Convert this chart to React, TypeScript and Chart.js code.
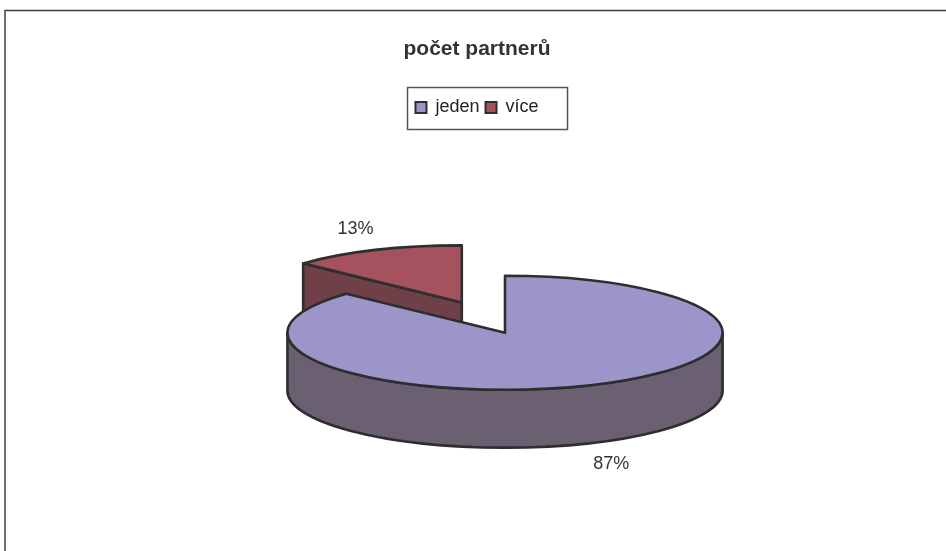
import React, { useEffect, useRef } from 'react';
import { Chart, registerables } from 'chart.js';

Chart.register(...registerables);

// ---- data ----
const categories = ['jeden', 'více'];
const values = [87, 13];
const topColors = ['#9B95C9', '#A5525E'];
const sideColors = ['#6B5F72', '#704049'];
const explode = [0, 0.5];
const chartTitle = 'počet partnerů';

// ---- style ----
const FONT = '"Liberation Sans", Arial, Helvetica, sans-serif';
const OUTLINE = '#2e2e2e';
const PIE = {
  rxFactor: 1.03,
  shiftX: 28,
  shiftY: -6,
  tilt: 0.262,
  depth: 0.266,
  explodeY: 1.16,
  labelX: 1.23,
  labelY: 1.4,
};

const framePlugin = {
  id: 'frame',
  beforeDraw(chart: any) {
    const ctx = chart.ctx;
    ctx.save();
    ctx.fillStyle = '#ffffff';
    ctx.fillRect(0, 0, chart.width, chart.height);
    ctx.strokeStyle = '#404040';
    ctx.lineWidth = 1.5;
    ctx.strokeRect(5, 10.5, chart.width + 50, chart.height + 50);
    ctx.restore();
  },
};

const legendBorderPlugin = {
  id: 'legendBorder',
  afterDraw(chart: any) {
    const hb = chart.legend && chart.legend.legendHitBoxes;
    if (!hb || !hb.length) return;
    const first = hb[0];
    const last = hb[hb.length - 1];
    const ctx = chart.ctx;
    ctx.save();
    ctx.strokeStyle = '#555555';
    ctx.lineWidth = 1.5;
    const l = Math.round(first.left - 8.5) + 0.5;
    const r = Math.round(last.left + last.width + 28) + 0.5;
    const t = Math.round(first.top - 12) + 0.5;
    const b = Math.round(first.top + first.height + 12) + 0.5;
    ctx.strokeRect(l, t, r - l, b - t);
    ctx.restore();
  },
};

const pie3dPlugin = {
  id: 'pie3d',
  beforeDatasetDraw() {
    return false;
  },
  afterDatasetsDraw(chart: any) {
    const meta = chart.getDatasetMeta(0);
    const arcs = meta.data;
    if (!arcs || !arcs.length) return;
    const ctx = chart.ctx;
    const a0 = arcs[0];
    const rx = a0.outerRadius * PIE.rxFactor;
    const ry = rx * PIE.tilt;
    const depth = rx * PIE.depth;
    const cx0 = a0.x + PIE.shiftX;
    const cy0 = a0.y + PIE.shiftY;
    const total = values.reduce((s, v) => s + v, 0);

    const items = arcs.map((arc: any, i: number) => {
      const s = arc.startAngle;
      const e = arc.endAngle;
      const mid = (s + e) / 2;
      const d = explode[i] || 0;
      return {
        i,
        s,
        e,
        mid,
        cx: cx0 + d * rx * Math.cos(mid),
        cy: cy0 + d * PIE.explodeY * ry * Math.sin(mid),
      };
    });
    items.sort((p: any, q: any) => Math.sin(p.mid) - Math.sin(q.mid));

    ctx.save();
    ctx.lineJoin = 'round';
    ctx.lineCap = 'round';
    ctx.lineWidth = 2.6;
    ctx.strokeStyle = OUTLINE;

    const face = (cx: number, cy: number, a: number, color: string) => {
      const ex = cx + rx * Math.cos(a);
      const ey = cy + ry * Math.sin(a);
      ctx.beginPath();
      ctx.moveTo(cx, cy);
      ctx.lineTo(ex, ey);
      ctx.lineTo(ex, ey + depth);
      ctx.lineTo(cx, cy + depth);
      ctx.closePath();
      ctx.fillStyle = color;
      ctx.fill();
      ctx.stroke();
    };

    for (const it of items) {
      const { i, s, e, cx, cy } = it;
      // radial faces facing the viewer
      if (Math.cos(s) < -1e-6) face(cx, cy, s, sideColors[i]);
      if (Math.cos(e) > 1e-6) face(cx, cy, e, sideColors[i]);
      // outer wall: visible where sin > 0
      for (let k = -1; k <= 1; k++) {
        const lo = Math.max(s, 2 * Math.PI * k);
        const hi = Math.min(e, 2 * Math.PI * k + Math.PI);
        if (hi - lo > 1e-6) {
          ctx.beginPath();
          ctx.ellipse(cx, cy, rx, ry, 0, lo, hi, false);
          ctx.lineTo(cx + rx * Math.cos(hi), cy + depth + ry * Math.sin(hi));
          ctx.ellipse(cx, cy + depth, rx, ry, 0, hi, lo, true);
          ctx.closePath();
          ctx.fillStyle = sideColors[i];
          ctx.fill();
          ctx.stroke();
        }
      }
      // top face
      ctx.beginPath();
      ctx.moveTo(cx, cy);
      ctx.ellipse(cx, cy, rx, ry, 0, s, e, false);
      ctx.closePath();
      ctx.fillStyle = topColors[i];
      ctx.fill();
      ctx.stroke();
    }

    // percentage labels
    ctx.fillStyle = '#333333';
    ctx.font = `18px ${FONT}`;
    ctx.textAlign = 'center';
    ctx.textBaseline = 'middle';
    for (const it of items) {
      const pct = Math.round((values[it.i] / total) * 100) + '%';
      const sn = Math.sin(it.mid);
      const x = it.cx + rx * PIE.labelX * Math.cos(it.mid);
      const y = it.cy + ry * PIE.labelY * sn + (sn > 0 ? depth : 0);
      ctx.fillText(pct, x, y);
    }
    ctx.restore();
  },
};

export default function App() {
  const ref = useRef<HTMLCanvasElement>(null);
  useEffect(() => {
    if (!ref.current) return;
    const chart = new Chart(ref.current, {
      type: 'pie',
      data: {
        labels: categories,
        datasets: [
          {
            data: values,
            backgroundColor: topColors,
            borderColor: OUTLINE,
            borderWidth: 2,
          },
        ],
      },
      options: {
        responsive: false,
        animation: false,
        devicePixelRatio: 1,
        layout: { padding: { left: 8, right: 0, top: 10, bottom: 0 } },
        plugins: {
          title: {
            display: true,
            text: chartTitle,
            color: '#333333',
            font: { family: FONT, size: 21, weight: 'bold' },
            padding: { top: 26.6, bottom: 30.7 },
          },
          legend: {
            display: true,
            position: 'top',
            labels: {
              color: '#222222',
              font: { family: FONT, size: 18 },
              boxWidth: 11,
              boxHeight: 11,
              padding: 6,
            },
          },
          tooltip: { enabled: false },
        },
      } as any,
      plugins: [framePlugin, pie3dPlugin, legendBorderPlugin],
    });
    return () => chart.destroy();
  }, []);
  return (
    <div style={{ position: 'fixed', left: 0, top: 0, width: 946, height: 551 }}>
      <canvas ref={ref} width={946} height={551} style={{ display: 'block' }} />
    </div>
  );
}
